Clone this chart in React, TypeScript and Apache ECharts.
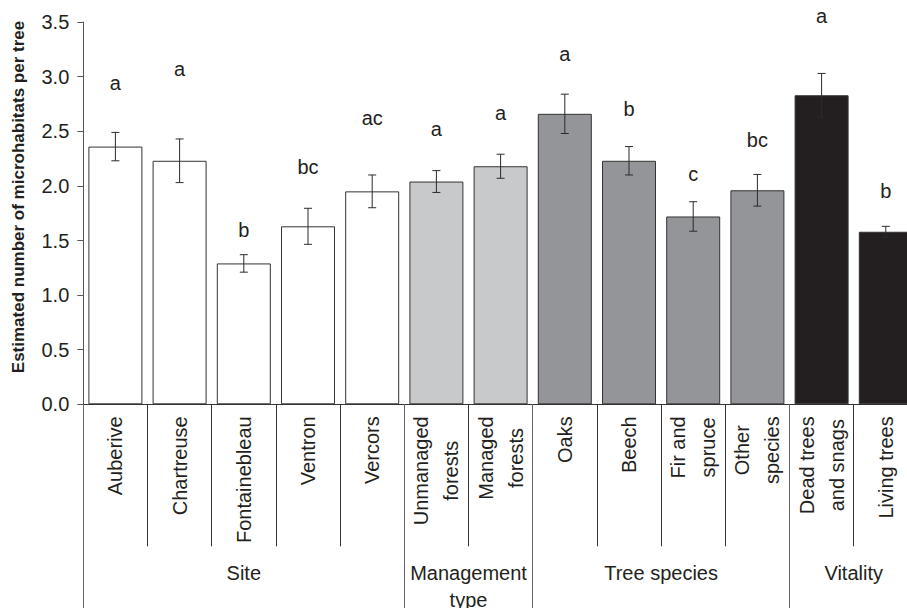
import React, { useEffect, useRef } from "react";
import * as echarts from "echarts";

const categories = [
  "Auberive",
  "Chartreuse",
  "Fontainebleau",
  "Ventron",
  "Vercors",
  "Unmanaged\nforests",
  "Managed\nforests",
  "Oaks",
  "Beech",
  "Fir and\nspruce",
  "Other\nspecies",
  "Dead trees\nand snags",
  "Living trees",
];
const means = [2.36, 2.23, 1.29, 1.63, 1.95, 2.04, 2.18, 2.66, 2.23, 1.72, 1.96, 2.83, 1.58];
const errors = [0.13, 0.2, 0.08, 0.165, 0.15, 0.1, 0.11, 0.18, 0.13, 0.135, 0.145, 0.2, 0.05];
const letters = ["a", "a", "b", "bc", "ac", "a", "a", "a", "b", "c", "bc", "a", "b"];
const letterHeights = [2.94, 3.07, 1.6, 2.17, 2.62, 2.52, 2.67, 3.21, 2.7, 2.11, 2.42, 3.56, 1.95];
const groups = ["Site", "Management\ntype", "Tree species", "Vitality"];
const groupSizes = [5, 2, 4, 2];
const groupColors = ["#ffffff", "#c8c9cb", "#939598", "#231f20"];
const yTicks = { min: 0, max: 3.5, interval: 0.5 };
const yTitle = "Estimated number of microhabitats per tree";

const FONT = "'Liberation Sans', Arial, sans-serif";
const TXT = "#231f20";

export default function App() {
  const ref = useRef<HTMLDivElement>(null);

  useEffect(() => {
    if (!ref.current) return;
    const chart = echarts.init(ref.current, null, { renderer: "svg" });

    // colour of each bar from its group
    const barColors: string[] = [];
    groups.forEach((g, gi) => {
      for (let k = 0; k < groupSizes[gi]; k++) barColors.push(groupColors[gi]);
    });

    // half-slot axis for group labels / separators
    const nHalf = categories.length * 2 + 1;
    const halfLabels: string[] = new Array(nHalf).fill("");
    const halfData: string[] = [];
    for (let i = 0; i < nHalf; i++) halfData.push(String(i));
    const tickSet = new Set<number>();
    const labelSet = new Set<number>();
    let start = 0;
    groups.forEach((g, gi) => {
      tickSet.add(2 * start);
      const c = 2 * start + groupSizes[gi];
      labelSet.add(c);
      halfLabels[c] = g;
      start += groupSizes[gi];
    });

    const option: any = {
      animation: false,
      textStyle: { fontFamily: FONT },
      grid: {
        left: 83.3,
        top: 22.1,
        width: 834.6,
        height: 382.2,
        containLabel: false,
        outerBoundsMode: "none",
      },
      graphic: [
        {
          type: "text",
          x: 18.5,
          y: 197,
          rotation: Math.PI / 2,
          style: {
            text: yTitle,
            fontSize: 17,
            fontWeight: "bold",
            fontFamily: FONT,
            fill: TXT,
            align: "center",
            verticalAlign: "middle",
          },
        },
      ],
      xAxis: [
        {
          type: "category",
          data: categories,
          position: "bottom",
          boundaryGap: true,
          axisLine: { show: true, lineStyle: { color: "#333", width: 1 } },
          axisTick: { show: true, length: 142, interval: 0, lineStyle: { color: "#333" } },
          axisLabel: {
            interval: 0,
            rotate: 90,
            margin: 12,
            fontSize: 20,
            color: TXT,
            lineHeight: 30,
            formatter: (v: string) =>
              v
                .split("\n")
                .map((s) => "{c|" + s + "}")
                .join("\n"),
            rich: { c: { align: "center", fontSize: 20, lineHeight: 30, color: TXT, fontFamily: FONT } },
          },
          splitLine: { show: false },
        },
        {
          type: "category",
          data: halfData,
          position: "bottom",
          boundaryGap: false,
          axisLine: { show: false },
          axisTick: {
            show: true,
            length: 204,
            interval: (i: number) => tickSet.has(i),
            lineStyle: { color: "#666" },
          },
          axisLabel: {
            interval: (i: number) => labelSet.has(i),
            formatter: (_v: string, i: number) => halfLabels[i],
            margin: 155,
            fontSize: 20,
            lineHeight: 27,
            color: TXT,
          },
          splitLine: { show: false },
        },
      ],
      yAxis: {
        type: "value",
        min: yTicks.min,
        max: yTicks.max,
        interval: yTicks.interval,
        axisLine: { show: true, lineStyle: { color: "#555" } },
        axisTick: { show: true, length: 6, lineStyle: { color: "#555" } },
        axisLabel: {
          fontSize: 20,
          color: TXT,
          margin: 14,
          formatter: (v: number) => v.toFixed(1),
        },
        splitLine: { show: false },
      },
      series: [
        {
          type: "bar",
          xAxisIndex: 0,
          barWidth: 54,
          data: means.map((v, i) => ({ value: v, itemStyle: { color: barColors[i] } })),
          itemStyle: { borderColor: "#333", borderWidth: 1 },
        },
        {
          type: "custom",
          xAxisIndex: 0,
          data: means.map((m, i) => [i, m, errors[i]]),
          encode: { x: 0, y: 1 },
          z: 5,
          renderItem: (params: any, api: any) => {
            const i = api.value(0);
            const m = api.value(1);
            const e = api.value(2);
            const top = api.coord([i, m + e]);
            const bot = api.coord([i, m - e]);
            const w = 4;
            const st = { stroke: "#2b2b2b", lineWidth: 1 };
            return {
              type: "group",
              children: [
                { type: "line", shape: { x1: top[0], y1: top[1], x2: bot[0], y2: bot[1] }, style: st },
                { type: "line", shape: { x1: top[0] - w, y1: top[1], x2: top[0] + w, y2: top[1] }, style: st },
                { type: "line", shape: { x1: bot[0] - w, y1: bot[1], x2: bot[0] + w, y2: bot[1] }, style: st },
              ],
            };
          },
        },
        {
          type: "custom",
          xAxisIndex: 0,
          data: letterHeights.map((h, i) => [i, h]),
          encode: { x: 0, y: 1 },
          clip: false,
          z: 6,
          renderItem: (params: any, api: any) => {
            const p = api.coord([api.value(0), api.value(1)]);
            return {
              type: "text",
              x: p[0],
              y: p[1],
              style: {
                text: letters[params.dataIndex],
                fontSize: 20,
                fontFamily: FONT,
                fill: TXT,
                align: "center",
                verticalAlign: "middle",
              },
            };
          },
        },
      ],
    };

    chart.setOption(option);
    return () => chart.dispose();
  }, []);

  return (
    <div
      ref={ref}
      style={{ position: "absolute", left: 0, top: 0, width: 907, height: 608, background: "#fff" }}
    />
  );
}
